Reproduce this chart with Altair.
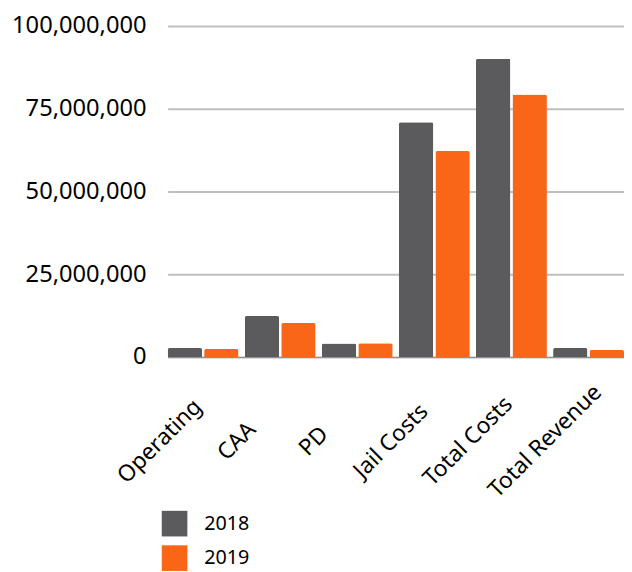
import altair as alt
import pandas as pd

categories = ["Operating", "CAA", "PD", "Jail Costs", "Total Costs", "Total Revenue"]
years = ["2018", "2019"]
values_2018 = [2700000, 12400000, 4100000, 70900000, 90100000, 2700000]
values_2019 = [2400000, 10300000, 4200000, 62200000, 79300000, 2100000]
y_ticks = [0, 25000000, 50000000, 75000000, 100000000]

rows = []
for c, a, b in zip(categories, values_2018, values_2019):
    rows.append({"category": c, "year": "2018", "value": a})
    rows.append({"category": c, "year": "2019", "value": b})
df = pd.DataFrame(rows)

FONT = "Noto Sans"

chart = alt.Chart(df).mark_bar(cornerRadiusTopLeft=2, cornerRadiusTopRight=2).encode(
    x=alt.X("category:N", sort=categories, title=None,
            scale=alt.Scale(paddingInner=0.08, paddingOuter=0.0),
            axis=alt.Axis(labelAngle=-45, labelAlign="center", labelBaseline="middle",
                          labelFontSize=23, labelFont=FONT, labelColor="#000000",
                          labelPadding=85, labelOffset=-44, ticks=False, domain=True,
                          domainColor="#8c8c8c", domainWidth=1, labelLimit=300)),
    xOffset=alt.XOffset("year:N", sort=years, scale=alt.Scale(paddingInner=0.055)),
    y=alt.Y("value:Q", title=None,
            scale=alt.Scale(domain=[0, 100000000]),
            axis=alt.Axis(values=y_ticks, labelExpr="format(datum.value, ',.0f')",
                          labelFontSize=24, labelFont=FONT, labelColor="#000000", labelPadding=22,
                          ticks=False, domain=False, grid=True, gridColor="#bfbfbf", gridWidth=2)),
    color=alt.Color("year:N", sort=years,
                    scale=alt.Scale(domain=years, range=["#5b5a5c", "#f96617"]),
                    legend=alt.Legend(title=None, orient="none", legendX=-6, legendY=492,
                                      symbolType="square", symbolSize=676, symbolStrokeWidth=0,
                                      labelFontSize=20, labelFont=FONT, labelColor="#000000",
                                      rowPadding=9, labelOffset=17, direction="vertical")),
).properties(
    width=463,
    height=336,
    autosize=alt.AutoSizeParams(type="none"),
    padding={"left": 162, "top": 14, "right": 0, "bottom": 220},
).configure_view(stroke=None)

chart.save("out.html", embed_options={"renderer": "svg", "actions": False})
